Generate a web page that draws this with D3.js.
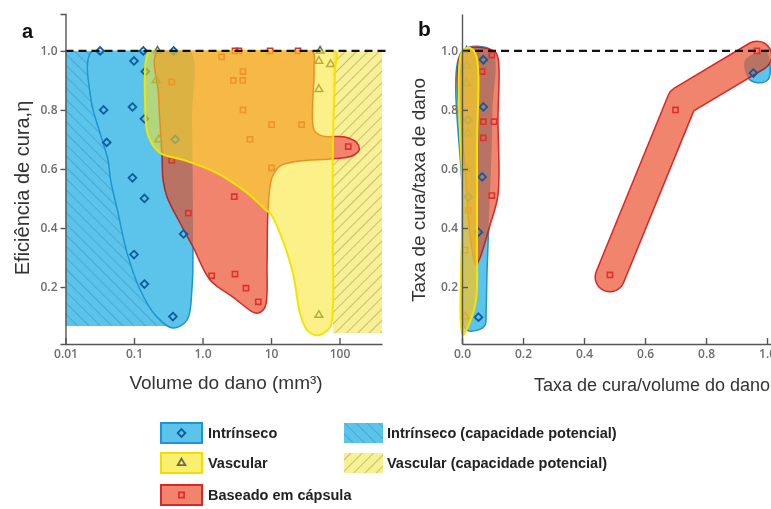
<!DOCTYPE html>
<html>
<head>
<meta charset="utf-8">
<script src="https://cdn.jsdelivr.net/npm/d3@7"></script>
<style>
body { margin: 0; background: #fff; }
</style>
</head>
<body>
<script>
// ---- data ----
// panel a: x = volume do dano (mm3, log), y = eficiencia de cura
var intrinsicPtsA = [[0.032,1.0],[0.137,1.0],[0.38,1.0],[0.1,0.966],[0.146,0.93],[0.036,0.80],[0.095,0.81],
  [0.142,0.77],[0.04,0.69],[0.40,0.70],[0.095,0.57],[0.142,0.50],[0.53,0.38],[0.1,0.31],[0.142,0.21],[0.37,0.10]];
var vascularPtsA = [[0.22,1.0],[52,1.0],[50,0.966],[74,0.955],[50,0.87],[0.21,0.90],[0.23,0.70],[50,0.105]];
var capsulePtsA = [[2.98,1.0],[3.4,1.0],[9.7,1.0],[24.8,1.0],[1.9,0.98],[0.355,0.895],[2.82,0.90],[3.87,0.90],
  [3.9,0.93],[3.9,0.80],[10.2,0.75],[28,0.75],[4.93,0.70],[134,0.676],[10.2,0.604],[0.355,0.629],[2.91,0.506],
  [0.62,0.45],[1.36,0.238],[2.98,0.244],[4.31,0.196],[6.53,0.15]];

var intrinsicBlobA = [[0.0244,1.0],[0.2,1.0],[0.657,1.0],[0.703,0.766],[0.726,0.454],[0.726,0.342],[0.703,0.197],
  [0.594,0.088],[0.371,0.061],[0.217,0.098],[0.123,0.19],[0.0793,0.315],[0.0584,0.451],[0.0455,0.563],
  [0.0417,0.631],[0.0319,0.722],[0.0236,0.834]];
var vascularBlobA = [[0.17,1.0],[4.9,1.0],[86,1.0],[86,0.936],[80,0.664],[80,0.325],[80,0.132],[72.6,0.064],
  [48.5,0.037],[33.6,0.054],[26.5,0.112],[20.9,0.247],[13.5,0.383],[9.67,0.451],[8.75,0.458],[4.47,0.519],
  [1.63,0.586],[0.519,0.631],[0.24,0.654],[0.16,0.715],[0.145,0.834],[0.15,0.969]];
var capsuleBlobA = [[0.224,1.0],[5,1.0],[39.7,1.0],[42.5,0.936],[42.5,0.732],[55.6,0.712],[120,0.708],[180,0.688],
  [193,0.664],[152,0.644],[72.6,0.634],[26.5,0.627],[13.5,0.61],[10.3,0.569],[9.04,0.461],[8.75,0.281],
  [8.17,0.132],[6.46,0.112],[5.46,0.115],[2.79,0.166],[1.29,0.224],[0.726,0.336],[0.469,0.417],[0.303,0.505],
  [0.265,0.563],[0.256,0.641],[0.228,0.85]];
var intrinsicPotentialA = [[0.01,0.068],[0.33,1.0]];
var vascularPotentialA = [[80,0.044],[417,1.0]];

// panel b: x = taxa de cura/volume do dano, y = taxa de cura/taxa de dano
var intrinsicPtsB = [[0.07,0.97],[0.07,0.81],[0.066,0.573],[0.054,0.386],[0.054,0.098],[0.02,0.766],[0.02,0.505],[0.955,0.925]];
var vascularPtsB = [[0.015,1.0],[0.015,0.95],[0.015,0.89],[0.02,0.72],[0.015,0.6],[0.01,0.1]];
var capsulePtsB = [[0.098,0.986],[0.066,0.93],[0.07,0.76],[0.105,0.76],[0.07,0.705],[0.098,0.51],[0.02,0.46],
  [0.01,0.325],[0.485,0.241],[0.70,0.80],[0.967,1.0]];

var intrinsicBlobB = [[0.0016,1.0],[0.098,1.0],[0.1,0.8],[0.095,0.6],[0.088,0.42],[0.082,0.25],[0.079,0.12],
  [0.075,0.07],[0.052,0.054],[0.016,0.054],[0.003,0.081],[0.0016,0.495]];
var intrinsicBlobB2 = [[0.928,0.969],[0.997,0.997],[1.01,0.953],[1.003,0.902],[0.97,0.892],[0.938,0.908]];
var vascularBlobB = [[0.0016,1.0],[0.026,1.01],[0.046,0.986],[0.049,0.664],[0.049,0.325],[0.046,0.156],
  [0.026,0.081],[0.003,0.037],[0.0016,0.495]];
var capsuleBlobB = [[0.003,1.0],[0.105,1.0],[0.118,0.976],[0.118,0.766],[0.118,0.512],[0.092,0.41],
  [0.059,0.298],[0.046,0.275],[0.033,0.325],[0.01,0.6]];
var capsuleBandB = [[0.485,0.234],[0.721,0.831],[0.967,0.983]];

var yTicks = [0.2, 0.4, 0.6, 0.8, 1.0];
var xTicksA = [0.01, 0.1, 1, 10, 100];
var xTickLabelsA = ["0.01", "0.1", "1.0", "10", "100"];
var xTicksB = [0, 0.2, 0.4, 0.6, 0.8, 1.0];

var legendSeries = ["Intrínseco", "Vascular", "Baseado em cápsula"];
var legendPotential = ["Intrínseco (capacidade potencial)", "Vascular (capacidade potencial)"];

// ---- colours ----
var blueFill = "rgb(92,196,235)", blueLine = "rgb(30,148,208)", blueTint = "rgb(196,222,236)";
var redFill = "rgb(241,132,108)", redLine = "rgb(218,38,38)";
var yelFill = "rgb(250,230,40)", yelLine = "rgb(244,228,0)";
var diaCol = "#0d5c9e", triCol = "#6b6950", sqCol = "#e0302a";

var svg = d3.select("body").append("svg")
  .attr("width", 771).attr("height", 509);

var y = d3.scaleLinear().domain([0.007, 1.125]).range([344, 14]);
var xA = d3.scaleLog().domain([0.01, 417]).range([65.5, 382]);
var xB = d3.scaleLinear().domain([0, 1.015]).range([462, 771.6]);

function blob(x) {
  return d3.line().x(function(d) { return x(d[0]); }).y(function(d) { return y(d[1]); })
    .curve(d3.curveCatmullRomClosed.alpha(0.5));
}
var lineA = blob(xA), lineB = blob(xB);
var band = d3.line().x(function(d) { return xB(d[0]); }).y(function(d) { return y(d[1]); });

var defs = svg.append("defs");
function hatch(id, bg, line, angle, gap) {
  var p = defs.append("pattern").attr("id", id)
    .attr("patternUnits", "userSpaceOnUse")
    .attr("width", gap).attr("height", gap)
    .attr("patternTransform", "rotate(" + angle + ")");
  p.append("rect").attr("width", gap).attr("height", gap).attr("fill", bg);
  p.append("line").attr("x1", 0).attr("y1", 0).attr("x2", 0).attr("y2", gap)
    .attr("stroke", line).attr("stroke-width", 1);
}
hatch("hBlue", blueFill, "rgb(48,142,198)", -45, 8);
hatch("hYel", "rgb(248,240,150)", "rgb(150,142,70)", 45, 8);

// panel a shapes stop at the 1.0 line
defs.append("clipPath").attr("id", "clipTop")
  .append("rect").attr("x", 0).attr("y", y(1) - 0.5).attr("width", 771).attr("height", 400);
// where the intrinsic blobs sit under a capsule blob
defs.append("mask").attr("id", "maskRedA")
  .append("path").attr("d", lineA(capsuleBlobA)).attr("fill", "#fff");
var mB = defs.append("mask").attr("id", "maskRedB");
mB.append("path").attr("d", lineB(capsuleBlobB)).attr("fill", "#fff");
mB.append("path").attr("d", band(capsuleBandB)).attr("fill", "none").attr("stroke", "#fff")
  .attr("stroke-width", 31).attr("stroke-linecap", "round").attr("stroke-linejoin", "round");

var symDia = d3.symbol().type(d3.symbolDiamond2 || d3.symbolDiamond).size(38);
var symTri = d3.symbol().type(d3.symbolTriangle2 || d3.symbolTriangle).size(42);
var symSq = d3.symbol().type(d3.symbolSquare2 || d3.symbolSquare).size(34);

function points(g, x, data, sym, col, w) {
  g.selectAll(null).data(data).enter().append("path")
    .attr("d", sym)
    .attr("transform", function(d) { return "translate(" + x(d[0]) + "," + y(d[1]) + ")"; })
    .attr("fill", "none").attr("stroke", col).attr("stroke-width", w);
}

function potential(g, x, box, pat) {
  g.append("rect")
    .attr("x", x(box[0][0])).attr("y", y(box[1][1]))
    .attr("width", x(box[1][0]) - x(box[0][0]))
    .attr("height", y(box[0][1]) - y(box[1][1]))
    .attr("fill", "url(#" + pat + ")");
}

// ---------- panel a ----------
var gA = svg.append("g");
potential(gA, xA, intrinsicPotentialA, "hBlue");
potential(gA, xA, vascularPotentialA, "hYel");

var sA = gA.append("g").attr("clip-path", "url(#clipTop)");
sA.append("path").attr("d", lineA(intrinsicBlobA)).attr("fill", blueFill)
  .attr("stroke", blueLine).attr("stroke-width", 1.5);
sA.append("path").attr("d", lineA(capsuleBlobA)).attr("fill", redFill)
  .attr("stroke", redLine).attr("stroke-width", 1.5);
sA.append("g").attr("mask", "url(#maskRedA)").style("mix-blend-mode", "multiply")
  .append("path").attr("d", lineA(intrinsicBlobA)).attr("fill", blueTint);

points(gA, xA, intrinsicPtsA, symDia, diaCol, 1.8);
points(gA, xA, vascularPtsA, symTri, triCol, 1.5);
points(gA, xA, capsulePtsA, symSq, sqCol, 1.6);

gA.append("g").attr("clip-path", "url(#clipTop)")
  .append("path").attr("d", lineA(vascularBlobA)).attr("fill", yelFill).attr("fill-opacity", 0.55)
  .attr("stroke", yelLine).attr("stroke-width", 2);

gA.append("line").attr("x1", xA(0.01)).attr("x2", 388).attr("y1", y(1)).attr("y2", y(1))
  .attr("stroke", "#111").attr("stroke-width", 2.2).attr("stroke-dasharray", "8,5");

// ---------- panel b ----------
var gB = svg.append("g");
gB.append("path").attr("d", lineB(intrinsicBlobB)).attr("fill", blueFill)
  .attr("stroke", blueLine).attr("stroke-width", 1.5);
gB.append("path").attr("d", lineB(intrinsicBlobB2)).attr("fill", blueFill)
  .attr("stroke", blueLine).attr("stroke-width", 1.5);
gB.append("path").attr("d", lineB(capsuleBlobB)).attr("fill", redFill)
  .attr("stroke", redLine).attr("stroke-width", 1.5);

gB.append("path").attr("d", band(capsuleBandB)).attr("fill", "none").attr("stroke", redLine)
  .attr("stroke-width", 31).attr("stroke-linecap", "round").attr("stroke-linejoin", "round");
gB.append("path").attr("d", band(capsuleBandB)).attr("fill", "none").attr("stroke", redFill)
  .attr("stroke-width", 28).attr("stroke-linecap", "round").attr("stroke-linejoin", "round");

var tB = gB.append("g").attr("mask", "url(#maskRedB)").style("mix-blend-mode", "multiply");
tB.append("path").attr("d", lineB(intrinsicBlobB)).attr("fill", blueTint);
tB.append("path").attr("d", lineB(intrinsicBlobB2)).attr("fill", blueTint);

points(gB, xB, intrinsicPtsB, symDia, diaCol, 1.8);
points(gB, xB, vascularPtsB, symTri, triCol, 1.5);
points(gB, xB, capsulePtsB, symSq, sqCol, 1.6);

gB.append("path").attr("d", lineB(vascularBlobB)).attr("fill", "rgb(236,196,50)").attr("fill-opacity", 0.8)
  .attr("stroke", yelLine).attr("stroke-width", 2);

gB.append("line").attr("x1", xB(0)).attr("x2", 771).attr("y1", y(1)).attr("y2", y(1))
  .attr("stroke", "#111").attr("stroke-width", 2.2).attr("stroke-dasharray", "8,5");

// ---------- axes ----------
function styleAxis(g) {
  g.select(".domain").attr("stroke", "#555").attr("stroke-width", 1.4);
  g.selectAll(".tick line").attr("stroke", "#555").attr("stroke-width", 1.4);
  g.selectAll(".tick text").attr("fill", "#6d6d6d")
    .style("font-family", "'Open Sans', sans-serif").style("font-size", "12px").style("font-weight", 600);
}

svg.append("g").attr("transform", "translate(65.5,0)")
  .call(d3.axisLeft(y).tickValues(yTicks).tickFormat(d3.format(".1f")).tickSizeOuter(0).tickSize(5).tickPadding(3))
  .call(styleAxis);
svg.append("g").attr("transform", "translate(0,344)")
  .call(d3.axisBottom(xA).tickValues(xTicksA).tickFormat(function(d, i) { return xTickLabelsA[i]; })
    .tickSizeOuter(0).tickSizeInner(-6).tickPadding(5))
  .call(styleAxis);

svg.append("g").attr("transform", "translate(462,0)")
  .call(d3.axisLeft(y).tickValues(yTicks).tickFormat(d3.format(".1f")).tickSizeOuter(0).tickSizeInner(-6).tickPadding(4))
  .call(styleAxis);
svg.append("g").attr("transform", "translate(0,344)")
  .call(d3.axisBottom(xB).tickValues(xTicksB).tickFormat(d3.format(".1f"))
    .tickSizeOuter(0).tickSizeInner(-6).tickPadding(5))
  .call(styleAxis);

// titles
var titleFont = "'Liberation Sans', Arial, sans-serif";
svg.append("text").attr("x", 226).attr("y", 389).attr("text-anchor", "middle")
  .style("font-family", titleFont).style("font-size", "19px").attr("fill", "#333")
  .text("Volume do dano (mm³)");
svg.append("text").attr("transform", "translate(29,188) rotate(-90)").attr("text-anchor", "middle")
  .style("font-family", titleFont).style("font-size", "20px").attr("fill", "#333")
  .text("Eficiência de cura,η");
svg.append("text").attr("x", 652).attr("y", 391).attr("text-anchor", "middle")
  .style("font-family", titleFont).style("font-size", "18px").attr("fill", "#333")
  .text("Taxa de cura/volume do dano");
svg.append("text").attr("transform", "translate(425,190) rotate(-90)").attr("text-anchor", "middle")
  .style("font-family", titleFont).style("font-size", "19px").attr("fill", "#333")
  .text("Taxa de cura/taxa de dano");

svg.append("text").attr("x", 22).attr("y", 38).style("font-family", titleFont)
  .style("font-size", "20px").style("font-weight", "bold").attr("fill", "#111").text("a");
svg.append("text").attr("x", 418).attr("y", 36).style("font-family", titleFont)
  .style("font-size", "21px").style("font-weight", "bold").attr("fill", "#111").text("b");

// ---------- legend ----------
var legFont = "'Liberation Sans Narrow', 'Arial Narrow', sans-serif";
var rowY = [423, 453, 485];
var swFill = [blueFill, "rgb(248,240,110)", redFill];
var swLine = [blueLine, "rgb(240,222,0)", redLine];
var swSym = [symDia, symTri, symSq];
var swCol = [diaCol, triCol, sqCol];

var leg = svg.append("g");
legendSeries.forEach(function(name, i) {
  leg.append("rect").attr("x", 161).attr("y", rowY[i]).attr("width", 41).attr("height", 20)
    .attr("fill", swFill[i]).attr("stroke", swLine[i]).attr("stroke-width", 2);
  leg.append("path").attr("d", swSym[i]).attr("transform", "translate(181.5," + (rowY[i] + 10) + ")")
    .attr("fill", "none").attr("stroke", swCol[i]).attr("stroke-width", 1.8);
  leg.append("text").attr("x", 208).attr("y", rowY[i] + 15)
    .style("font-family", legFont).style("font-size", "14.5px").style("font-weight", "bold")
    .attr("fill", "#222").text(name);
});
var potPat = ["hBlue", "hYel"];
legendPotential.forEach(function(name, i) {
  leg.append("rect").attr("x", 344).attr("y", rowY[i]).attr("width", 39).attr("height", 20)
    .attr("fill", "url(#" + potPat[i] + ")");
  leg.append("text").attr("x", 387).attr("y", rowY[i] + 15)
    .style("font-family", legFont).style("font-size", "14.5px").style("font-weight", "bold")
    .attr("fill", "#222").text(name);
});
</script>
</body>
</html>
